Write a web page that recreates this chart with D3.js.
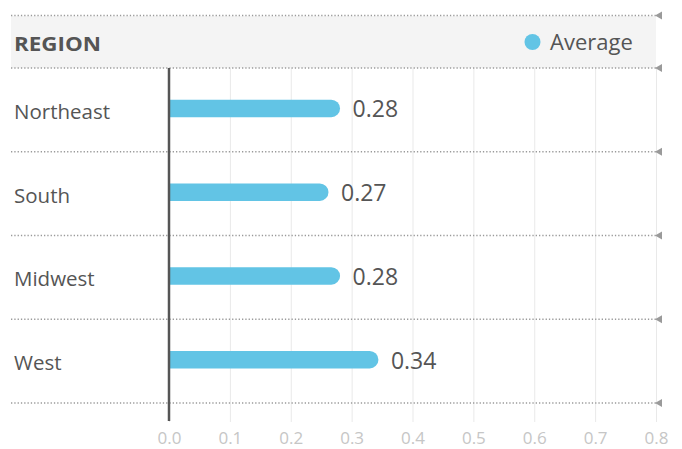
<!DOCTYPE html>
<html>
<head>
<meta charset="utf-8">
<script src="https://cdn.jsdelivr.net/npm/d3@7"></script>
<style>
  html, body { margin: 0; padding: 0; background: #fff; }
  svg { display: block; font-family: "Open Sans", "Lato", sans-serif; }
</style>
</head>
<body>
<svg id="chart" width="682" height="449"></svg>
<script>
const categories = ["Northeast", "South", "Midwest", "West"];
const values = [0.281, 0.262, 0.281, 0.344];
const valueLabels = ["0.28", "0.27", "0.28", "0.34"];
const xTicks = [0, 0.1, 0.2, 0.3, 0.4, 0.5, 0.6, 0.7, 0.8];
const seriesName = "Average";
const headerTitle = "REGION";

const svg = d3.select("#chart");
const left = 169, right = 656;
const rowTop = 68, rowBottom = 403;
const barColor = "#62c4e5";

const x = d3.scaleLinear().domain([0, 0.8]).range([left, right]);
const y = d3.scaleBand().domain(categories).range([rowTop, rowBottom]).paddingInner(0).paddingOuter(0);

// header band
svg.append("rect").attr("x", 11).attr("y", 16).attr("width", right - 11).attr("height", 52).attr("fill", "#f4f4f4");
svg.append("text").attr("x", 14).attr("y", 51).text(headerTitle)
  .attr("font-size", 20).attr("font-weight", 700).attr("fill", "#555")
  .attr("textLength", 87).attr("lengthAdjust", "spacingAndGlyphs");
svg.append("circle").attr("cx", 532.5).attr("cy", 42).attr("r", 8).attr("fill", barColor);
svg.append("text").attr("x", 550).attr("y", 50).text(seriesName).attr("font-size", 22).attr("fill", "#555");

// gridlines via axis
const grid = svg.append("g").attr("transform", `translate(0,${rowTop})`)
  .call(d3.axisBottom(x).tickValues(xTicks).tickSize(422 - rowTop).tickFormat(""));
grid.select(".domain").remove();
grid.selectAll(".tick line").attr("stroke", "#e9e9e9").attr("stroke-width", 1);

// tick labels
const ax = svg.append("g").attr("transform", `translate(0,444)`)
  .call(d3.axisBottom(x).tickValues(xTicks).tickSize(0).tickFormat(d3.format(".1f")));
ax.select(".domain").remove();
ax.selectAll(".tick text").attr("font-size", 17).attr("fill", "#c6c6c6")
  .attr("font-family", "'Open Sans', sans-serif").attr("dy", 0).attr("y", 0);

// dotted row separators
const sepYs = [15.5].concat(categories.map(c => y(c))).concat([rowBottom]);
sepYs.forEach(sy => {
  svg.append("line").attr("x1", 11).attr("x2", right).attr("y1", sy).attr("y2", sy)
    .attr("stroke", "#9a9a9a").attr("stroke-width", 1.3).attr("stroke-dasharray", "1.3,2");
  svg.append("path").attr("d", `M${right - 1},${sy} L${right + 6},${sy - 4} L${right + 6},${sy + 4} Z`).attr("fill", "#9a9a9a");
});

// bars
const bh = 17.5;
categories.forEach((c, i) => {
  const cy = y(c) + y.bandwidth() / 2 - 1.5;
  const x1 = x(values[i]);
  const r = bh / 2;
  svg.append("path")
    .attr("d", `M${left},${cy - r} L${x1 - r},${cy - r} A${r},${r} 0 0 1 ${x1 - r},${cy + r} L${left},${cy + r} Z`)
    .attr("fill", barColor);
  svg.append("text").attr("x", x1 + 12.5).attr("y", cy + 9).text(valueLabels[i])
    .attr("font-size", 23).attr("fill", "#555");
  svg.append("text").attr("x", 14).attr("y", cy + 10.5).text(c)
    .attr("font-size", 20.5).attr("fill", "#555");
});

// zero axis line
svg.append("line").attr("x1", x(0)).attr("x2", x(0)).attr("y1", rowTop).attr("y2", 421)
  .attr("stroke", "#555").attr("stroke-width", 2.5);
</script>
</body>
</html>
